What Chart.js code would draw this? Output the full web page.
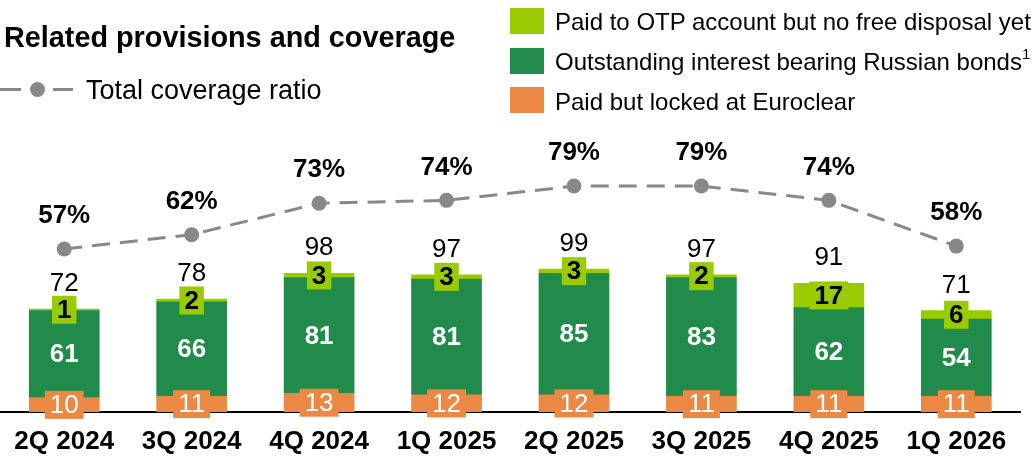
<!DOCTYPE html>
<html>
<head>
<meta charset="utf-8">
<script src="https://cdn.jsdelivr.net/npm/chart.js@4.4.1/dist/chart.umd.min.js"></script>
<style>
  html, body { margin: 0; padding: 0; background: #fff; }
  body { width: 1034px; height: 462px; position: relative; overflow: hidden;
         font-family: "Liberation Sans", Arial, sans-serif; color: #000; }
  #wrap { position: absolute; left: -7px; top: 0; width: 1041px; height: 462px; }
  .txt { position: absolute; font-size: 24px; line-height: 30px; white-space: nowrap; }
  .title { font-weight: bold; font-size: 28.8px; left: 4px; top: 22px; }
  .sw { position: absolute; left: 510px; width: 34px; height: 26px; }
  .leg { left: 555px; }
  sup { font-size: 15px; line-height: 0; vertical-align: 11px; }
  .dash { position: absolute; height: 3px; background: #888; top: 88px; }
  .dot { position: absolute; width: 15px; height: 15px; border-radius: 50%; background: #888; left: 30px; top: 82px; }
</style>
</head>
<body>
<div id="wrap"><canvas id="provChart" width="1041" height="462"></canvas></div>

<div class="txt title">Related provisions and coverage</div>
<div class="dash" style="left:0;width:21px"></div>
<div class="dot"></div>
<div class="dash" style="left:53px;width:20px"></div>
<div class="txt" style="left:86px;top:75px;font-size:27px">Total coverage ratio</div>

<div class="sw" style="top:8px;background:#99cc00"></div>
<div class="txt leg" style="top:7px">Paid to OTP account but no free disposal yet</div>
<div class="sw" style="top:48px;background:#218b4b"></div>
<div class="txt leg" style="top:47px">Outstanding interest bearing Russian bonds<sup>1</sup></div>
<div class="sw" style="top:87px;background:#ea8844"></div>
<div class="txt leg" style="top:87px">Paid but locked at Euroclear</div>

<script>
// Trimestres y valores (mil millones)
const quarters = ['2Q 2024', '3Q 2024', '4Q 2024', '1Q 2025', '2Q 2025', '3Q 2025', '4Q 2025', '1Q 2026'];
const euroclear = [10, 11, 13, 12, 12, 11, 11, 11];
const russianBonds = [61, 66, 81, 81, 85, 83, 62, 54];
const paidOtp = [1, 2, 3, 3, 3, 2, 17, 6];
const totals = [72, 78, 98, 97, 99, 97, 91, 71];
const coverage = [57, 62, 73, 74, 79, 79, 74, 58];

const FONT = '"Liberation Sans", Arial, sans-serif';

// Etiquetas de los segmentos, totales y porcentajes
const labelPlugin = {
    id: 'segmentLabels',
    afterDatasetsDraw(chart) {
        const ctx = chart.ctx;
        ctx.save();
        ctx.textAlign = 'center';
        ctx.textBaseline = 'middle';

        chart.data.datasets.forEach((ds, di) => {
            if (ds.type === 'line') return;
            const meta = chart.getDatasetMeta(di);
            meta.data.forEach((bar, i) => {
                const text = String(ds.data[i]);
                const cy = (bar.y + bar.base) / 2;
                ctx.font = (ds.labelBold ? 'bold ' : '') + '26px ' + FONT;
                if (ds.labelBox) {
                    const w = ctx.measureText(text).width + 10;
                    ctx.fillStyle = ds.backgroundColor;
                    ctx.fillRect(bar.x - w / 2, cy - 14, w, 28);
                }
                ctx.fillStyle = ds.labelColor;
                ctx.fillText(text, bar.x, cy + 1);
            });
        });

        // Totales sobre cada barra
        const topMeta = chart.getDatasetMeta(2);
        ctx.font = '26px ' + FONT;
        ctx.fillStyle = '#000';
        topMeta.data.forEach((bar, i) => {
            ctx.fillText(String(totals[i]), bar.x, bar.y - 25);
        });

        // Porcentajes de cobertura
        const lineMeta = chart.getDatasetMeta(3);
        ctx.font = 'bold 26px ' + FONT;
        lineMeta.data.forEach((pt, i) => {
            ctx.fillText(coverage[i] + '%', pt.x, pt.y - 33);
        });
        ctx.restore();
    }
};

const ctx = document.getElementById('provChart').getContext('2d');
const provChart = new Chart(ctx, {
    type: 'bar',
    data: {
        labels: quarters,
        datasets: [
            {
                label: 'Paid but locked at Euroclear',
                data: euroclear,
                backgroundColor: '#ea8844',
                labelColor: '#fff',
                labelBox: true,
                order: 2
            },
            {
                label: 'Outstanding interest bearing Russian bonds',
                data: russianBonds,
                backgroundColor: '#218b4b',
                labelColor: '#fff',
                labelBold: true,
                order: 2
            },
            {
                label: 'Paid to OTP account but no free disposal yet',
                data: paidOtp,
                backgroundColor: '#99cc00',
                labelColor: '#000',
                labelBold: true,
                labelBox: true,
                order: 2
            },
            {
                type: 'line',
                label: 'Total coverage ratio',
                data: coverage,
                yAxisID: 'y2',
                borderColor: '#888888',
                borderWidth: 3,
                borderDash: [18, 10],
                pointRadius: 7.5,
                pointHoverRadius: 7.5,
                pointBackgroundColor: '#888888',
                pointBorderWidth: 0,
                tension: 0,
                order: 1
            }
        ]
    },
    options: {
        responsive: false,
        animation: false,
        devicePixelRatio: 1,
        layout: { padding: { top: 126, right: 14, left: 0, bottom: 0 } },
        datasets: { bar: { barThickness: 70 } },
        plugins: {
            legend: { display: false },
            tooltip: { enabled: false }
        },
        scales: {
            x: {
                stacked: true,
                grid: { display: false },
                border: { display: true, color: '#000', width: 2 },
                ticks: {
                    color: '#000',
                    padding: 6,
                    maxRotation: 0,
                    font: { family: FONT, size: 26, weight: 'bold' }
                },
                afterFit(scale) {
                    scale.height = 50;
                }
            },
            y: { stacked: true, display: false, min: 0, max: 200 },
            y2: { display: false, min: 0, max: 100 }
        }
    },
    plugins: [labelPlugin]
});
</script>
</body>
</html>
